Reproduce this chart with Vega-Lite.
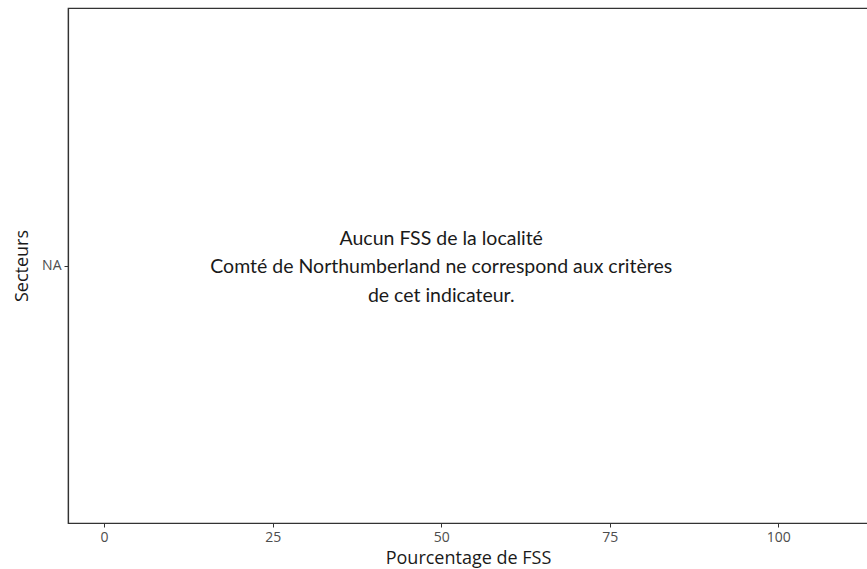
{
  "$schema": "https://vega.github.io/schema/vega-lite/v6.json",
  "width": 800,
  "height": 515,
  "autosize": "none",
  "padding": {"left": 68, "top": 8, "right": 0, "bottom": 46},
  "background": "white",
  "config": {
    "view": {"stroke": "#333333", "strokeWidth": 1.2},
    "axis": {
      "domainColor": "#333333",
      "domainWidth": 1.2,
      "tickColor": "#333333",
      "tickSize": 4,
      "grid": false,
      "labelFont": "Open Sans",
      "labelFontSize": 14,
      "labelColor": "#4d4d4d",
      "titleFont": "Open Sans",
      "titleFontSize": 18,
      "titleFontWeight": "normal",
      "titleColor": "#1a1a1a"
    }
  },
  "data": {
    "values": [
      {"Secteurs": "NA", "x": 50, "label": "Aucun FSS de la localité\nComté de Northumberland ne correspond aux critères\nde cet indicateur."}
    ]
  },
  "mark": {
    "type": "text",
    "lineBreak": "\n",
    "font": "Lato",
    "fontSize": 19.5,
    "lineHeight": 28.5,
    "align": "center",
    "baseline": "middle",
    "dy": -27,
    "color": "#1a1a1a"
  },
  "encoding": {
    "x": {
      "field": "x",
      "type": "quantitative",
      "scale": {"domain": [-5.35, 113.3], "nice": false, "zero": false},
      "axis": {"values": [0, 25, 50, 75, 100], "title": "Pourcentage de FSS", "labelPadding": 3, "titlePadding": 5}
    },
    "y": {
      "field": "Secteurs",
      "type": "nominal",
      "axis": {"title": "Secteurs", "labelPadding": 3, "titlePadding": 10}
    },
    "text": {"field": "label"}
  }
}
